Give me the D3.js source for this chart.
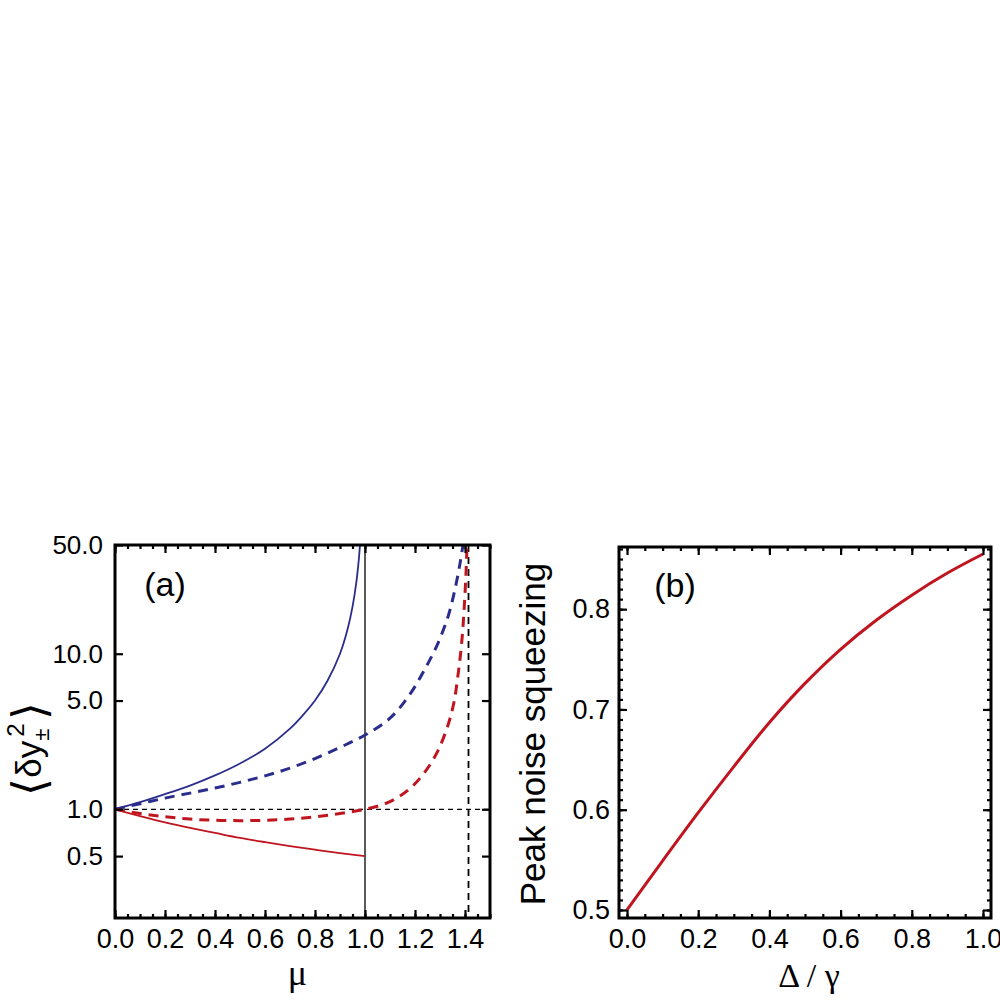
<!DOCTYPE html>
<html>
<head>
<meta charset="utf-8">
<script src="https://cdn.jsdelivr.net/npm/d3@7"></script>
<style>
  body { margin: 0; background: #fff; }
  svg { display: block; }
  text { font-family: "Liberation Sans", Arial, sans-serif; fill: #000; }
</style>
</head>
<body>
<svg id="chart" width="1000" height="1000"></svg>
<script>
// panel (a): noise variance vs mu (log axis)
const muBlueSolid  = [0, 0.1, 0.2, 0.3, 0.4, 0.5, 0.6, 0.7, 0.75, 0.8, 0.85, 0.9, 0.93, 0.95, 0.965, 0.975, 0.98];
const valBlueSolid = [1, 1.11, 1.25, 1.42, 1.65, 1.97, 2.45, 3.3, 4.0, 5.0, 6.7, 10, 14.3, 20, 28.5, 40, 50];

const muRedSolid  = [0, 0.1, 0.2, 0.3, 0.4, 0.5, 0.6, 0.7, 0.8, 0.9, 1.0];
const valRedSolid = [1, 0.905, 0.825, 0.76, 0.705, 0.655, 0.615, 0.58, 0.55, 0.523, 0.5];

const muBlueDash  = [0, 0.1, 0.2, 0.3, 0.4, 0.5, 0.6, 0.7, 0.8, 0.9, 1.0, 1.1, 1.18, 1.24, 1.29, 1.333, 1.36, 1.38, 1.392];
const valBlueDash = [1, 1.085, 1.18, 1.27, 1.37, 1.49, 1.64, 1.84, 2.12, 2.5, 3.0, 3.85, 5.5, 8.0, 11.5, 17.5, 26, 38, 50];

const muRedDash  = [0, 0.1, 0.2, 0.3, 0.4, 0.5, 0.6, 0.7, 0.8, 0.9, 1.0, 1.1, 1.18, 1.24, 1.29, 1.33, 1.355, 1.373, 1.387, 1.397, 1.404, 1.408];
const valRedDash = [1, 0.94, 0.895, 0.865, 0.85, 0.845, 0.85, 0.865, 0.895, 0.94, 1.0, 1.12, 1.36, 1.74, 2.35, 3.4, 4.8, 7.5, 11.9, 20, 33, 50];

const muCritical = 1.0;          // solid vertical
const muThreshold = 1.414;       // dashed vertical
const unitLevel = 1.0;           // dashed horizontal

const aXTicks = [0, 0.2, 0.4, 0.6, 0.8, 1.0, 1.2, 1.4];
const aYTicks = [0.5, 1, 5, 10, 50];

// panel (b): peak squeezing vs detuning
const deltaB = [0, 0.1, 0.2, 0.3, 0.4, 0.5, 0.6, 0.7, 0.8, 0.9, 1.0];
const peakB  = [0.5, 0.549, 0.597, 0.643, 0.687, 0.726, 0.760, 0.789, 0.814, 0.836, 0.855];

const bXTicks = [0, 0.2, 0.4, 0.6, 0.8, 1.0];
const bYTicks = [0.5, 0.6, 0.7, 0.8];

const BLUE = "#2b2d8c";
const RED = "#c0141e";

const svg = d3.select("#chart");
const fmt = d3.format(".1f");
const smooth = d3.curveCatmullRom.alpha(0.5);

// ---------- panel (a) ----------
const A = {left: 115, right: 490, top: 545, bottom: 918};
const xA = d3.scaleLinear().domain([0, 1.5]).range([A.left, A.right]);
const yA = d3.scaleLog().domain([0.2, 50]).range([A.bottom, A.top]);

svg.append("clipPath").attr("id", "clipA").append("rect")
    .attr("x", A.left).attr("y", A.top)
    .attr("width", A.right - A.left).attr("height", A.bottom - A.top);

const gA = svg.append("g").attr("clip-path", "url(#clipA)");

const lineA = (mus, vals) => d3.line()
    .x(i => xA(mus[i])).y(i => yA(vals[i]))
    .curve(smooth)(d3.range(mus.length));

// reference lines
gA.append("line")
    .attr("x1", xA(0)).attr("x2", xA(1.5))
    .attr("y1", yA(unitLevel)).attr("y2", yA(unitLevel))
    .attr("stroke", "#000").attr("stroke-width", 1.3).attr("stroke-dasharray", "5,4");
gA.append("line")
    .attr("x1", xA(muCritical)).attr("x2", xA(muCritical))
    .attr("y1", A.top).attr("y2", A.bottom)
    .attr("stroke", "#000").attr("stroke-width", 1.3);
gA.append("line")
    .attr("x1", xA(muThreshold)).attr("x2", xA(muThreshold))
    .attr("y1", A.top).attr("y2", A.bottom)
    .attr("stroke", "#000").attr("stroke-width", 1.8).attr("stroke-dasharray", "7,5");

gA.append("path").attr("d", lineA(muBlueSolid, valBlueSolid))
    .attr("fill", "none").attr("stroke", BLUE).attr("stroke-width", 1.8);
gA.append("path").attr("d", lineA(muRedSolid, valRedSolid))
    .attr("fill", "none").attr("stroke", RED).attr("stroke-width", 1.8);
gA.append("path").attr("d", lineA(muBlueDash, valBlueDash))
    .attr("fill", "none").attr("stroke", BLUE).attr("stroke-width", 3)
    .attr("stroke-dasharray", "10,7");
gA.append("path").attr("d", lineA(muRedDash, valRedDash))
    .attr("fill", "none").attr("stroke", RED).attr("stroke-width", 3)
    .attr("stroke-dasharray", "10,7");

function styleAxis(g, size) {
    g.select(".domain").remove();
    g.selectAll(".tick line").attr("stroke", "#000").attr("stroke-width", 2.2);
    g.selectAll("text").style("font-size", size + "px")
        .style("font-family", "'Liberation Sans', Arial, sans-serif");
}

const aMinorX = d3.range(0, 1.5001, 0.05);

// bottom
svg.append("g").attr("transform", `translate(0,${A.bottom})`)
    .call(d3.axisBottom(xA).tickValues(aMinorX).tickSize(-4).tickFormat(""))
    .call(g => styleAxis(g, 0));
svg.append("g").attr("transform", `translate(0,${A.bottom})`)
    .call(d3.axisBottom(xA).tickValues(aXTicks).tickSize(-8).tickPadding(11).tickFormat(fmt))
    .call(g => styleAxis(g, 27));
// top
svg.append("g").attr("transform", `translate(0,${A.top})`)
    .call(d3.axisTop(xA).tickValues(aMinorX).tickSize(-4).tickFormat(""))
    .call(g => styleAxis(g, 0));
svg.append("g").attr("transform", `translate(0,${A.top})`)
    .call(d3.axisTop(xA).tickValues(aXTicks).tickSize(-8).tickFormat(""))
    .call(g => styleAxis(g, 0));
// left
svg.append("g").attr("transform", `translate(${A.left},0)`)
    .call(d3.axisLeft(yA).tickValues(aYTicks).tickSize(-8).tickPadding(12).tickFormat(fmt))
    .call(g => styleAxis(g, 26));
// right
svg.append("g").attr("transform", `translate(${A.right},0)`)
    .call(d3.axisRight(yA).tickValues(aYTicks).tickSize(-8).tickFormat(""))
    .call(g => styleAxis(g, 0));

svg.append("rect")
    .attr("x", A.left).attr("y", A.top)
    .attr("width", A.right - A.left).attr("height", A.bottom - A.top)
    .attr("fill", "none").attr("stroke", "#000").attr("stroke-width", 3);

svg.append("text").attr("x", 165).attr("y", 596)
    .attr("text-anchor", "middle").style("font-size", "34px").text("(a)");

svg.append("text").attr("x", (A.left + A.right) / 2 - 5).attr("y", 985)
    .attr("text-anchor", "middle")
    .style("font-family", "'Liberation Serif', 'Times New Roman', serif")
    .style("font-size", "36px").text("μ");

// y label <δy±^2>
const yl = svg.append("text")
    .attr("transform", "translate(41,749) rotate(-90)")
    .attr("text-anchor", "middle");
yl.append("tspan").style("font-family", "'DejaVu Sans', sans-serif").style("font-size", "46px")
    .style("font-weight", "200").attr("dy", 4).text("⟨");
yl.append("tspan").style("font-size", "35px").attr("dy", -4).text("δy");
yl.append("tspan").style("font-size", "22px").attr("dy", 8).text("±");
yl.append("tspan").style("font-size", "24px").attr("dx", -8).attr("dy", -25).text("2");
yl.append("tspan").style("font-family", "'DejaVu Sans', sans-serif").style("font-size", "46px")
    .style("font-weight", "200").attr("dx", 3).attr("dy", 21).text("⟩");

// ---------- panel (b) ----------
const B = {left: 619, right: 991, top: 547, bottom: 918};
const xB = d3.scaleLinear().domain([-0.0225, 1.0225]).range([B.left, B.right]);
const yB = d3.scaleLinear().domain([0.492, 0.862]).range([B.bottom, B.top]);

svg.append("clipPath").attr("id", "clipB").append("rect")
    .attr("x", B.left).attr("y", B.top)
    .attr("width", B.right - B.left).attr("height", B.bottom - B.top);

svg.append("g").attr("clip-path", "url(#clipB)")
    .append("path")
    .attr("d", d3.line().x(i => xB(deltaB[i])).y(i => yB(peakB[i]))
        .curve(smooth)(d3.range(deltaB.length)))
    .attr("fill", "none").attr("stroke", RED).attr("stroke-width", 3);

const bMinorX = d3.range(0, 1.0001, 0.05);
const bMinorY = d3.range(0.5, 0.861, 0.01);

svg.append("g").attr("transform", `translate(0,${B.bottom})`)
    .call(d3.axisBottom(xB).tickValues(bMinorX).tickSize(-4).tickFormat(""))
    .call(g => styleAxis(g, 0));
svg.append("g").attr("transform", `translate(0,${B.bottom})`)
    .call(d3.axisBottom(xB).tickValues(bXTicks).tickSize(-8).tickPadding(11).tickFormat(fmt))
    .call(g => styleAxis(g, 27));
svg.append("g").attr("transform", `translate(0,${B.top})`)
    .call(d3.axisTop(xB).tickValues(bMinorX).tickSize(-4).tickFormat(""))
    .call(g => styleAxis(g, 0));
svg.append("g").attr("transform", `translate(0,${B.top})`)
    .call(d3.axisTop(xB).tickValues(bXTicks).tickSize(-8).tickFormat(""))
    .call(g => styleAxis(g, 0));
svg.append("g").attr("transform", `translate(${B.left},0)`)
    .call(d3.axisLeft(yB).tickValues(bMinorY).tickSize(-4).tickFormat(""))
    .call(g => styleAxis(g, 0));
svg.append("g").attr("transform", `translate(${B.left},0)`)
    .call(d3.axisLeft(yB).tickValues(bYTicks).tickSize(-8).tickPadding(9).tickFormat(fmt))
    .call(g => styleAxis(g, 27));
svg.append("g").attr("transform", `translate(${B.right},0)`)
    .call(d3.axisRight(yB).tickValues(bMinorY).tickSize(-4).tickFormat(""))
    .call(g => styleAxis(g, 0));
svg.append("g").attr("transform", `translate(${B.right},0)`)
    .call(d3.axisRight(yB).tickValues(bYTicks).tickSize(-8).tickFormat(""))
    .call(g => styleAxis(g, 0));

svg.append("rect")
    .attr("x", B.left).attr("y", B.top)
    .attr("width", B.right - B.left).attr("height", B.bottom - B.top)
    .attr("fill", "none").attr("stroke", "#000").attr("stroke-width", 3);

svg.append("text").attr("x", 675).attr("y", 597)
    .attr("text-anchor", "middle").style("font-size", "34px").text("(b)");

svg.append("text").attr("x", (B.left + B.right) / 2 + 4).attr("y", 987)
    .attr("text-anchor", "middle")
    .style("font-family", "'Liberation Serif', 'Times New Roman', serif")
    .style("font-size", "34px").text("Δ / γ");

svg.append("text")
    .attr("transform", "translate(545,734) rotate(-90)")
    .attr("text-anchor", "middle").style("font-size", "35px").text("Peak noise squeezing");
</script>
</body>
</html>
